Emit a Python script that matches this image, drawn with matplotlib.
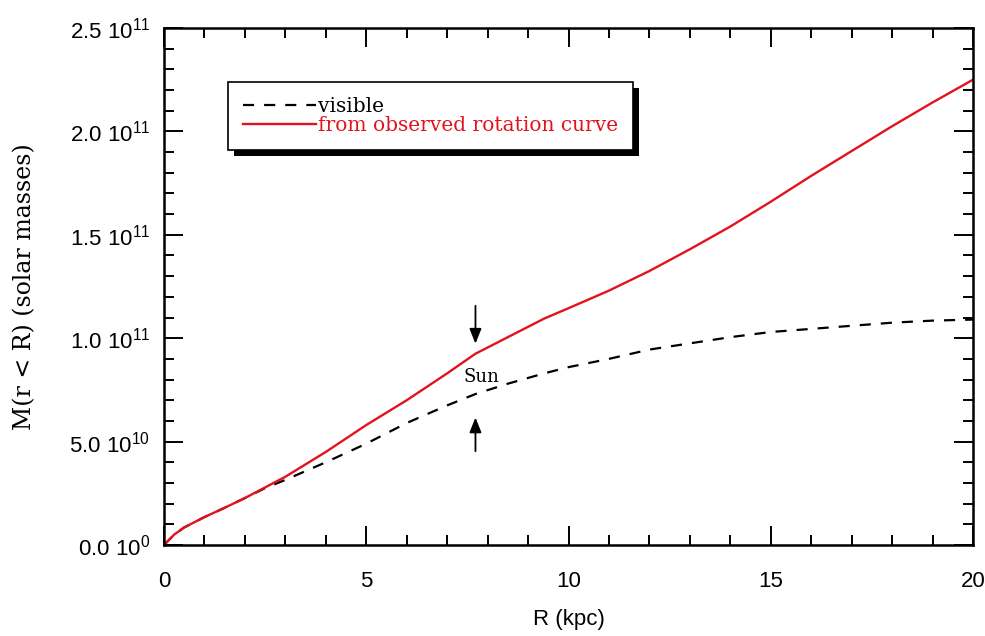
import matplotlib
matplotlib.use("Agg")
import matplotlib.pyplot as plt
import matplotlib.patheffects as pe
from matplotlib.ticker import MultipleLocator, FuncFormatter

# Enclosed mass of the Galaxy vs radius (units of 1e10 solar masses)
r_obs = [0, 0.25, 0.5, 1, 1.5, 2, 3, 4, 5, 6, 7, 7.7, 8.5, 9.05, 9.4, 10, 11, 12, 13, 14, 15, 16, 17, 18, 19, 20]
m_obs = [0, 0.5, 0.85, 1.35, 1.8, 2.27, 3.3, 4.5, 5.8, 7.0, 8.3, 9.25, 10.05, 10.6, 10.95, 11.45, 12.3, 13.25, 14.3, 15.4, 16.6, 17.85, 19.05, 20.25, 21.4, 22.5]

r_vis = [0, 0.25, 0.5, 1, 1.5, 2, 2.5, 3, 4, 5, 6, 7, 7.7, 8.5, 9.4, 10, 11, 12, 13, 14, 15, 16, 17, 18, 19, 20]
m_vis = [0, 0.5, 0.85, 1.35, 1.8, 2.27, 2.75, 3.15, 4.0, 4.9, 5.9, 6.75, 7.3, 7.8, 8.3, 8.6, 9.0, 9.45, 9.75, 10.05, 10.3, 10.45, 10.6, 10.75, 10.85, 10.9]

sun_r = 7.7
sun_label = "Sun"

scale = 1e10
red = "#e3121c"
sans = ["Liberation Sans Narrow", "Liberation Sans"]

plt.rcParams["mathtext.fontset"] = "custom"
plt.rcParams["mathtext.rm"] = "Liberation Sans"

fig = plt.figure(figsize=(9.85, 6.36), dpi=100)
ax = fig.add_axes([164/985, 1 - 545/636, 809/985, 517/636])

ax.plot(r_vis, [m * scale for m in m_vis], color="black", lw=1.6, ls=(0, (5, 4.5)), label="visible")
ax.plot(r_obs, [m * scale for m in m_obs], color=red, lw=1.7, label="from observed rotation curve")

ax.set_xlim(0, 20)
ax.set_ylim(0, 2.5e11)

# Sun marker arrows
ax.annotate("", xy=(sun_r, 9.6 * scale), xytext=(sun_r, 11.7 * scale),
            arrowprops=dict(arrowstyle="-|>,head_length=0.5,head_width=0.2", color="black", lw=1.3, mutation_scale=18))
ax.annotate("", xy=(sun_r, 6.3 * scale), xytext=(sun_r, 4.4 * scale),
            arrowprops=dict(arrowstyle="-|>,head_length=0.5,head_width=0.2", color="black", lw=1.3, mutation_scale=18))
ax.text(sun_r + 0.15, 8.1 * scale, sun_label, ha="center", va="center",
        fontsize=13, family="DejaVu Serif")

# ticks
ax.xaxis.set_major_locator(MultipleLocator(5))
ax.xaxis.set_minor_locator(MultipleLocator(1))
ax.yaxis.set_major_locator(MultipleLocator(5e10))
ax.yaxis.set_minor_locator(MultipleLocator(1e10))
ax.tick_params(which="both", direction="in", top=True, right=True, width=1.4)
ax.tick_params(which="major", length=14)
ax.tick_params(which="minor", length=7)
ax.tick_params(axis="x", pad=19, labelsize=16)
ax.tick_params(axis="y", pad=10, labelsize=16)
for s in ax.spines.values():
    s.set_linewidth(1.8)


def yfmt(v, pos):
    if v == 0:
        return r"0.0 10$^{0}$"
    exp = len(str(int(v))) - 1
    return r"%.1f 10$^{%d}$" % (v / 10**exp, exp)


ax.yaxis.set_major_formatter(FuncFormatter(yfmt))
for lab in ax.get_xticklabels() + ax.get_yticklabels():
    lab.set_family(sans)

ax.set_xlabel("R (kpc)", fontsize=16, family=sans, labelpad=12)
ax.set_ylabel("M(r < R) (solar masses)", fontsize=17, family="DejaVu Serif", va="center")
ax.yaxis.set_label_coords((25 - 164) / 809, 0.5)

leg = ax.legend(loc="upper left", bbox_to_anchor=(0.079, 0.8955), borderaxespad=0,
                prop={"family": "DejaVu Serif", "size": 14.5},
                handlelength=3.6, handletextpad=0.1, labelspacing=0.0, borderpad=0.75,
                fancybox=False, framealpha=1, edgecolor="black")
leg.get_frame().set_linewidth(1.2)
leg.get_frame().set_path_effects([pe.SimplePatchShadow(offset=(4.5, -4.5), shadow_rgbFace="black", alpha=1),
                                  pe.Normal()])
leg.get_texts()[1].set_color(red)

fig.savefig("out.png", dpi=100)
